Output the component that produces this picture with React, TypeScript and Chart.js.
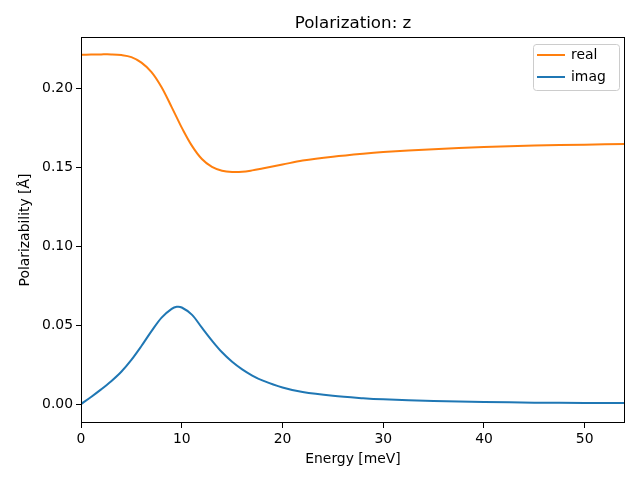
import React, { useEffect, useRef } from "react";
import { Chart, registerables } from "chart.js";

Chart.register(...registerables);

const energy = [0, 1, 2, 3, 4, 5, 6, 7, 8, 9, 9.5, 10, 11, 12, 13, 14, 15, 16, 17, 18, 20, 22, 25, 28, 30, 35, 40, 45, 50, 54];
const realValues = [0.2213, 0.2215, 0.2216, 0.2216, 0.2212, 0.2199, 0.2164, 0.2104, 0.2008, 0.1882, 0.1817, 0.1752, 0.1638, 0.1553, 0.1503, 0.1479, 0.1471, 0.1472, 0.1481, 0.1493, 0.1518, 0.1543, 0.1568, 0.1587, 0.1597, 0.1615, 0.1629, 0.1638, 0.1644, 0.1648];
const imagValues = [0.0, 0.0045, 0.0093, 0.0145, 0.0205, 0.028, 0.0368, 0.0462, 0.0548, 0.0603, 0.0616, 0.0612, 0.0567, 0.0484, 0.0402, 0.0328, 0.0268, 0.022, 0.0181, 0.015, 0.0105, 0.0076, 0.0052, 0.0037, 0.003, 0.0019, 0.0013, 0.0009, 0.0007, 0.0006];
const seriesNames = ["real", "imag"];
const seriesColors = ["#ff7f0e", "#1f77b4"];
const titleText = "Polarization: z";
const xTitle = "Energy [meV]";
const yTitle = "Polarizability [Å]";

const FONT = "'DejaVu Sans', sans-serif";

const mplPlugin = {
  id: "mplBox",
  afterDatasetsDraw(chart: any) {
    const { ctx, chartArea: a } = chart;
    ctx.save();
    ctx.strokeStyle = "#000";
    ctx.lineWidth = 1;
    ctx.strokeRect(Math.round(a.left) + 0.5, Math.round(a.top) + 0.5, Math.round(a.right - a.left) - 1, Math.round(a.bottom - a.top) - 1);

    // legend
    const w = 86;
    const h = 46;
    const x0 = Math.round(a.right) - 6 - w;
    const y0 = Math.round(a.top) + 7;
    const r = 3;
    ctx.beginPath();
    ctx.moveTo(x0 + r, y0 + 0.5);
    ctx.arcTo(x0 + w + 0.5, y0 + 0.5, x0 + w + 0.5, y0 + h + 0.5, r);
    ctx.arcTo(x0 + w + 0.5, y0 + h + 0.5, x0 + 0.5, y0 + h + 0.5, r);
    ctx.arcTo(x0 + 0.5, y0 + h + 0.5, x0 + 0.5, y0 + 0.5, r);
    ctx.arcTo(x0 + 0.5, y0 + 0.5, x0 + w + 0.5, y0 + 0.5, r);
    ctx.closePath();
    ctx.fillStyle = "rgba(255,255,255,0.8)";
    ctx.fill();
    ctx.strokeStyle = "#cccccc";
    ctx.stroke();
    ctx.font = `13.9px ${FONT}`;
    ctx.textBaseline = "middle";
    ctx.textAlign = "left";
    chart.data.datasets.forEach((ds: any, i: number) => {
      const yy = y0 + 11 + i * 22;
      ctx.strokeStyle = ds.borderColor;
      ctx.lineWidth = 2;
      ctx.beginPath();
      ctx.moveTo(x0 + 4, yy);
      ctx.lineTo(x0 + 32, yy);
      ctx.stroke();
      ctx.fillStyle = "#000";
      ctx.fillText(ds.label, x0 + 38, yy);
    });
    ctx.restore();
  },
};

export default function App() {
  const ref = useRef<HTMLCanvasElement | null>(null);
  useEffect(() => {
    document.body.style.margin = "0";
    const canvas = ref.current!;
    const chart = new Chart(canvas, {
      type: "line",
      data: {
        datasets: [
          {
            label: seriesNames[0],
            data: energy.map((x, i) => ({ x, y: realValues[i] })),
            borderColor: seriesColors[0],
            backgroundColor: seriesColors[0],
            borderWidth: 2,
            pointRadius: 0,
            tension: 0.35,
          },
          {
            label: seriesNames[1],
            data: energy.map((x, i) => ({ x, y: imagValues[i] })),
            borderColor: seriesColors[1],
            backgroundColor: seriesColors[1],
            borderWidth: 2,
            pointRadius: 0,
            tension: 0.35,
          },
        ],
      },
      options: {
        responsive: false,
        animation: false,
        layout: { padding: { left: 0, right: 15, top: 0, bottom: 0 } },
        plugins: {
          legend: { display: false },
          tooltip: { enabled: false },
          title: {
            display: true,
            fullSize: false,
            text: titleText,
            color: "#000",
            font: { family: FONT, size: 16.7, weight: "normal" },
            padding: { top: 14, bottom: 3 },
          },
        },
        scales: {
          x: {
            type: "linear",
            min: 0,
            max: 54,
            ticks: {
              stepSize: 10,
              includeBounds: false,
              color: "#000",
              font: { family: FONT, size: 13.9 },
              padding: 3,
              maxRotation: 0,
            },
            grid: { display: true, drawOnChartArea: false, drawTicks: true, tickLength: 5, color: "#000" },
            border: { display: false },
            title: {
              display: true,
              text: xTitle,
              color: "#000",
              font: { family: FONT, size: 13.9 },
              padding: { top: 0, bottom: 12 },
            },
            afterFit: (s: any) => {
              s.height = 57;
            },
          },
          y: {
            type: "linear",
            min: -0.012,
            max: 0.2326,
            ticks: {
              stepSize: 0.05,
              includeBounds: false,
              color: "#000",
              font: { family: FONT, size: 13.9 },
              padding: 3,
              callback: (v: any) => Number(v).toFixed(2),
            },
            grid: { display: true, drawOnChartArea: false, drawTicks: true, tickLength: 5, color: "#000" },
            border: { display: false },
            title: {
              display: true,
              text: yTitle,
              color: "#000",
              font: { family: FONT, size: 13.9 },
              padding: { top: 17, bottom: 8 },
            },
            afterFit: (s: any) => {
              s.width = 81;
            },
          },
        },
      },
      plugins: [mplPlugin],
    });
    return () => chart.destroy();
  }, []);
  return (
    <div style={{ position: "absolute", left: 0, top: 0, width: 640, height: 480 }}>
      <canvas ref={ref} width={640} height={480} />
    </div>
  );
}
